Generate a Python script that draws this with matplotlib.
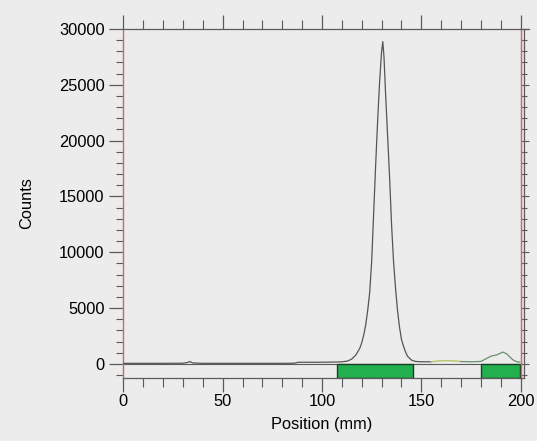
import matplotlib
matplotlib.use("Agg")
import matplotlib.pyplot as plt
from matplotlib.ticker import MultipleLocator

plt.rcParams['font.family'] = ['Liberation Sans', 'DejaVu Sans']

# ---- data ----
position_mm = [0, 10, 20, 30, 32, 33.5, 35, 40, 50, 60, 70, 80, 86, 88, 92, 96, 100,
               105, 110, 113, 115, 117, 119, 120, 121, 122, 123, 124, 125, 126, 127,
               128, 129, 130, 130.6, 131.2, 132, 133, 134, 135, 136, 137, 138, 139,
               140, 141, 142, 143, 145, 147, 150, 155]
counts = [60, 60, 60, 70, 120, 220, 90, 60, 60, 60, 60, 60, 70, 150, 160, 150, 160,
          170, 190, 270, 450, 800, 1400, 1900, 2600, 3500, 4800, 6400, 9200, 13500, 17800,
          21800, 25300, 28000, 28870, 27500, 24200, 20500, 16800, 12500, 9200, 6800, 4800, 3300,
          2200, 1600, 1100, 700, 350, 230, 200, 200]

tail_mm = [155, 158, 162, 166, 170]
tail_counts = [200, 260, 300, 280, 220]

end_mm = [170, 175, 180, 182, 185, 188, 191, 193, 196, 198, 199.5]
end_counts = [220, 200, 230, 420, 700, 820, 1070, 900, 380, 200, 180]

region_start = [107.5, 180.0]
region_end = [146.0, 199.5]

x_ticks = [0, 50, 100, 150, 200]
y_ticks = [0, 5000, 10000, 15000, 20000, 25000, 30000]

# ---- style ----
bg = '#ececec'
axis_gray = '#5a5a5a'
red = '#c86a6a'
curve = '#555555'

W, H = 537, 441
fig = plt.figure(figsize=(W / 100, H / 100), dpi=100, facecolor=bg)
left_px, right_px, top_px, bottom_px = 123.3, 520.7, 29, 378
ax = fig.add_axes([left_px / W, 1 - bottom_px / H, (right_px - left_px) / W,
                   (bottom_px - top_px) / H])
ax.set_facecolor(bg)

ymin = -1254
ax.set_xlim(0, 200)
ax.set_ylim(ymin, 30000)

# baseline at y=0
ax.axhline(0, color=axis_gray, lw=0.8, zorder=1)

# green regions
widths = [e - s for s, e in zip(region_start, region_end)]
ax.bar(region_start, [0 - ymin] * len(region_start), width=widths, bottom=ymin,
       align='edge', color='#22b04e', edgecolor='#1c3d26', lw=1.0, zorder=2)

# curve
ax.plot(position_mm, counts, color=curve, lw=0.9, zorder=3)
ax.plot(tail_mm, tail_counts, color='#b9c46a', lw=1.0, zorder=3)
ax.plot(end_mm, end_counts, color='#6c8f6a', lw=0.9, zorder=3)

# spines
for s in ['left', 'right']:
    ax.spines[s].set_color(red)
    ax.spines[s].set_linewidth(1.0)
for s in ['top', 'bottom']:
    ax.spines[s].set_color(axis_gray)
    ax.spines[s].set_linewidth(0.9)

ax.set_xticks(x_ticks)
ax.set_yticks(y_ticks)
ax.xaxis.set_minor_locator(MultipleLocator(10))
ax.yaxis.set_minor_locator(MultipleLocator(1000))
ax.tick_params(axis='x', which='major', direction='out', length=10, width=0.9,
               color=axis_gray, labelsize=11.8, pad=1.5, top=True, labeltop=False)
ax.tick_params(axis='x', which='minor', direction='out', length=6.5, width=0.8,
               color=axis_gray, top=True)
ax.tick_params(axis='y', which='major', direction='out', length=10, width=0.9,
               color=axis_gray, labelsize=11.8, pad=3.5)
ax.tick_params(axis='y', which='minor', direction='out', length=5, width=0.8,
               color=axis_gray)

# right side ticks (short, pointing outward)
sec = ax.secondary_yaxis('right')
sec.set_yticks(y_ticks)
sec.yaxis.set_minor_locator(MultipleLocator(1000))
sec.tick_params(which='major', direction='out', length=6, width=0.8, color=axis_gray,
                labelright=False)
sec.tick_params(which='minor', direction='out', length=4, width=0.8, color=axis_gray)
sec.spines['right'].set_color(red)

# outer frame line on right
dx = 3.3 / (right_px - left_px)
ax.plot([1 + dx, 1 + dx], [0, 1], transform=ax.transAxes, color=axis_gray, lw=0.9,
        clip_on=False)
ax.plot([1, 1 + dx], [0, 0], transform=ax.transAxes, color=axis_gray, lw=0.9,
        clip_on=False)
ax.plot([1, 1 + dx * 2.5], [1, 1], transform=ax.transAxes, color=axis_gray, lw=0.9,
        clip_on=False)

ax.set_xlabel('Position (mm)', fontsize=11.8, labelpad=6)
ax.set_ylabel('Counts', fontsize=11.8, labelpad=18)

fig.savefig('out.png', dpi=100, facecolor=bg)
